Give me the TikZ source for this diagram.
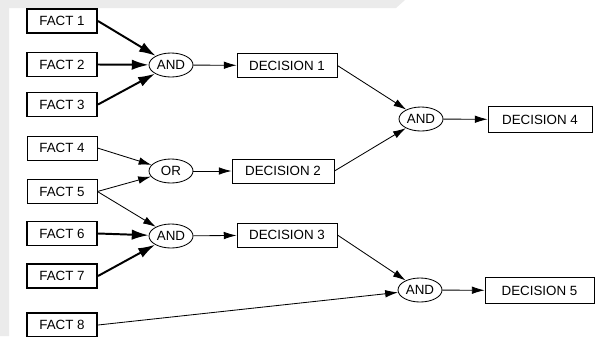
\documentclass[tikz,border=0pt]{standalone}
\usepackage{fontspec}
\setmainfont{Liberation Sans}
\usetikzlibrary{arrows.meta,shapes.geometric}
\tikzset{
  factbox/.style={draw,line width=0.6pt,minimum width=1.75cm,minimum height=0.6cm,inner sep=0pt,font=\fontsize{9.5}{11}\selectfont},
  keyfact/.style={factbox,line width=1.4pt},
  decbox/.style={draw,line width=0.6pt,minimum width=2.5cm,minimum height=0.6cm,inner sep=0pt,font=\fontsize{9.5}{11}\selectfont},
  gate/.style={draw,ellipse,line width=0.6pt,minimum width=1.1cm,minimum height=0.6cm,inner sep=0pt,font=\fontsize{9.5}{11}\selectfont},
  link/.style={-{Latex[length=3.2mm,width=1.9mm]},line width=0.6pt},
  keylink/.style={-{Latex[length=4.2mm,width=2.6mm]},line width=1.4pt}
}
\begin{document}
\begin{tikzpicture}[x=0.025cm,y=-0.025cm]
\useasboundingbox (0,0) rectangle (597,336);
\fill[black!8] (0,0)--(405,0)--(396,8)--(9,8)--(9,336)--(0,336)--cycle;
% facts
\node[keyfact] (f1) at (62,21) {FACT 1};
\node[keyfact] (f2) at (62,64.5) {FACT 2};
\node[keyfact] (f3) at (62,104.5) {FACT 3};
\node[factbox] (f4) at (62,148) {FACT 4};
\node[factbox] (f5) at (62,191.5) {FACT 5};
\node[keyfact] (f6) at (62,233.5) {FACT 6};
\node[keyfact] (f7) at (62,276) {FACT 7};
\node[keyfact] (f8) at (62,325) {FACT 8};
% gates
\node[gate] (and1) at (171,65) {AND};
\node[gate] (or1) at (171,171) {OR};
\node[gate] (and2) at (171,236) {AND};
\node[gate] (and3) at (421,119) {AND};
\node[gate] (and4) at (420,290) {AND};
% decisions
\node[decbox] (d1) at (287,65.5) {DECISION 1};
\node[decbox,minimum width=2.55cm] (d2) at (283,171) {DECISION 2};
\node[decbox] (d3) at (287,235) {DECISION 3};
\node[decbox,minimum width=2.6cm,minimum height=0.63cm] (d4) at (540,119.5) {DECISION 4};
\node[decbox,minimum width=2.72cm,minimum height=0.63cm] (d5) at (539.5,290.5) {DECISION 5};
% links
\draw[keylink] (f1.east) -- (and1);
\draw[keylink] (f2.east) -- (and1);
\draw[keylink] (f3.east) -- (and1);
\draw[link] (f4.east) -- (or1);
\draw[link] (f5.east) -- (or1);
\draw[link] (f5.east) -- (and2);
\draw[keylink] (f6.east) -- (and2);
\draw[keylink] (f7.east) -- (and2);
\draw[link] (f8.east) -- (and4);
\draw[link] (and1) -- (d1);
\draw[link] (or1) -- (d2);
\draw[link] (and2) -- (d3);
\draw[link] (d1.east) -- (and3);
\draw[link] (d2.east) -- (and3);
\draw[link] (d3.east) -- (and4);
\draw[link] (and3) -- (d4);
\draw[link] (and4) -- (d5);
\end{tikzpicture}
\end{document}
